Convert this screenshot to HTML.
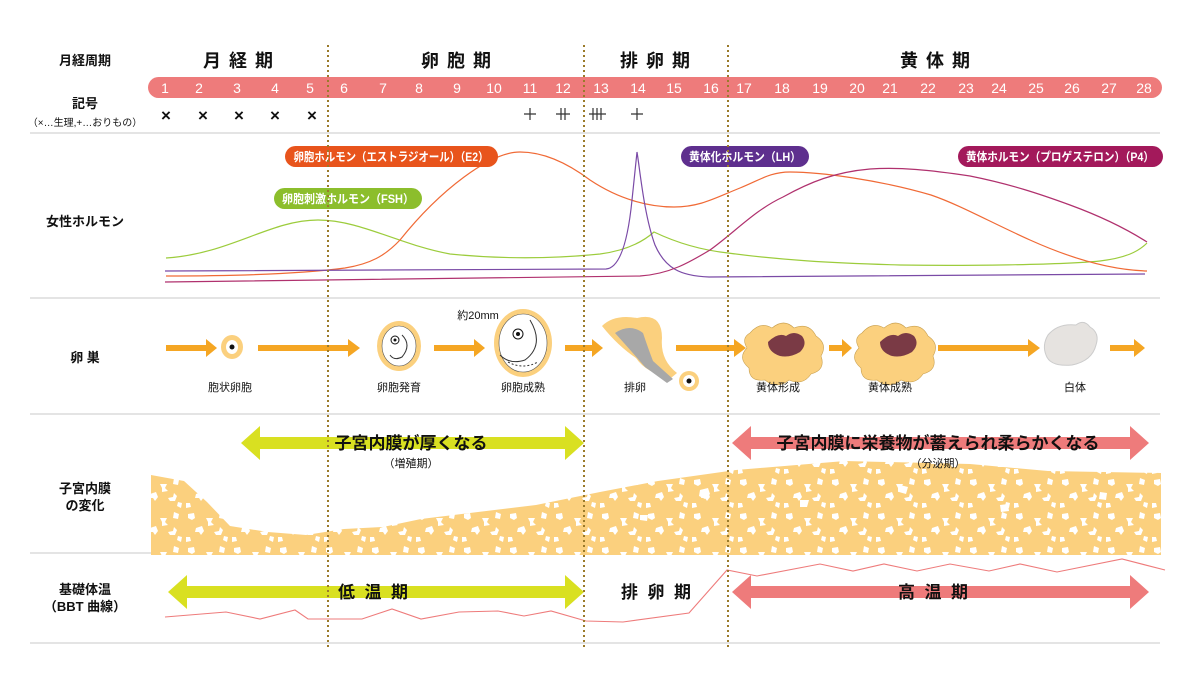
<!DOCTYPE html>
<html><head><meta charset="utf-8"><style>
html,body{margin:0;padding:0;background:#fff;}
svg{display:block;font-family:"Liberation Sans","Noto Sans CJK JP",sans-serif;}
</style></head><body>
<svg width="1191" height="684" viewBox="0 0 1191 684" xmlns="http://www.w3.org/2000/svg">
<defs>
<pattern id="spk" x="0" y="0" width="46" height="34" patternUnits="userSpaceOnUse">
<rect width="46" height="34" fill="#fbd07e"/>
<path d="M4 4 l6 -1 l1 5 l-3 2 l-4 -2z" fill="#fff"/>
<path d="M22 8 l7 0 l-2 4 l3 3 l-6 1 l0 -4z" fill="#fff"/>
<path d="M36 2 l5 2 l-1 5 l-5 -1z" fill="#fff"/>
<path d="M12 18 l6 -2 l2 5 l-3 4 l-2 -3 l-4 0z" fill="#fff"/>
<path d="M30 22 l5 -1 l1 -4 l3 3 l-2 5 l-5 0z" fill="#fff"/>
<path d="M2 27 l4 0 l1 4 l-5 1z" fill="#fff"/>
<path d="M40 26 l4 1 l-1 5 l-4 -2z" fill="#fff"/>
</pattern>
</defs>

<g stroke="#dcdcdc" stroke-width="1.5">
<line x1="30" y1="133" x2="1160" y2="133"/>
<line x1="30" y1="298" x2="1160" y2="298"/>
<line x1="30" y1="414" x2="1160" y2="414"/>
<line x1="30" y1="553" x2="1160" y2="553"/>
<line x1="30" y1="643" x2="1160" y2="643"/>
</g>

<g font-size="13" font-weight="bold" fill="#111" text-anchor="middle">
<text x="85" y="65">月経周期</text>
<text x="85" y="108">記号</text>
<text x="85" y="126" font-size="10" font-weight="normal">（×…生理,+…おりもの）</text>
<text x="85" y="226">女性ホルモン</text>
<text x="85" y="362">卵 巣</text>
<text x="85" y="493">子宮内膜</text>
<text x="85" y="510">の変化</text>
<text x="85" y="594">基礎体温</text>
<text x="85" y="611">（BBT 曲線）</text>
</g>

<g font-size="18" font-weight="bold" fill="#111" text-anchor="middle">
<text x="238" y="67" textLength="70">月 経 期</text>
<text x="456" y="67" textLength="70">卵 胞 期</text>
<text x="655" y="67" textLength="70">排 卵 期</text>
<text x="935" y="67" textLength="70">黄 体 期</text>
</g>

<rect x="148" y="77" width="1014" height="21" rx="10.5" fill="#ee7b7b"/>
<g font-size="14" fill="#fff" text-anchor="middle">
<text x="165" y="93">1</text><text x="199" y="93">2</text><text x="237" y="93">3</text><text x="275" y="93">4</text><text x="310" y="93">5</text><text x="344" y="93">6</text><text x="383" y="93">7</text><text x="419" y="93">8</text><text x="457" y="93">9</text><text x="494" y="93">10</text><text x="530" y="93">11</text><text x="563" y="93">12</text><text x="601" y="93">13</text><text x="638" y="93">14</text><text x="674" y="93">15</text><text x="711" y="93">16</text><text x="744" y="93">17</text><text x="782" y="93">18</text><text x="820" y="93">19</text><text x="857" y="93">20</text><text x="890" y="93">21</text><text x="928" y="93">22</text><text x="966" y="93">23</text><text x="999" y="93">24</text><text x="1036" y="93">25</text><text x="1072" y="93">26</text><text x="1109" y="93">27</text><text x="1144" y="93">28</text>
</g>
<g font-size="17" font-weight="bold" fill="#111" text-anchor="middle">
<text x="166" y="121">×</text><text x="203" y="121">×</text><text x="239" y="121">×</text><text x="275" y="121">×</text><text x="312" y="121">×</text>
</g>
<g stroke="#333" stroke-width="1.2">
<path d="M524 114h12M530 108v12"/>
<path d="M556 114h14M561 108v12M565 108v12"/>
<path d="M589 114h17M593 108v12M597 108v12M601 108v12"/>
<path d="M631 114h12M637 108v12"/>
</g>

<g fill="none" stroke-width="1.2">
<path stroke="#9ccc3c" d="M166 258 C230 254 270 220 318 220 C360 220 400 245 450 254 C510 260 560 258 600 254 C630 250 645 240 654 232 C675 242 700 250 728 253 C780 260 830 263 900 265 C960 266 1060 265 1100 261 C1125 258 1138 252 1147 243"/>
<path stroke="#f06a36" d="M166 276 C240 276 300 274 345 268 C370 264 385 256 400 240 C440 190 490 152 520 152 C545 152 570 165 590 180 C620 200 650 207 674 207 C700 207 715 198 740 188 C760 180 770 172 790 172 C820 172 880 180 931 195 C960 205 990 222 1030 240 C1070 258 1110 270 1147 271"/>
<path stroke="#7a4aa6" d="M165 271 L606 269 C620 268 628 240 632 200 C635 170 637 152 637 152 C640 170 644 215 655 245 C665 268 680 276 709 277 L1145 274"/>
<path stroke="#b0316e" d="M165 282 L640 276 C670 274 690 262 710 250 C735 232 755 210 783 197 C810 182 835 172 870 169 C900 167 930 170 970 176 C1010 184 1040 194 1070 205 C1100 216 1125 228 1147 242"/>
</g>
<g font-size="12" font-weight="bold" fill="#fff" text-anchor="middle">
<rect x="285" y="146" width="213" height="21" rx="10.5" fill="#e8541c"/>
<text x="391" y="161" textLength="195" lengthAdjust="spacingAndGlyphs">卵胞ホルモン（エストラジオール）（E2）</text>
<rect x="274" y="188" width="148" height="21" rx="10.5" fill="#8cbe2c"/>
<text x="348" y="203" textLength="132" lengthAdjust="spacingAndGlyphs">卵胞刺激ホルモン（FSH）</text>
<rect x="681" y="146" width="128" height="21" rx="10.5" fill="#5e2f8e"/>
<text x="745" y="161" textLength="112" lengthAdjust="spacingAndGlyphs">黄体化ホルモン（LH）</text>
<rect x="958" y="146" width="205" height="21" rx="10.5" fill="#a3195b"/>
<text x="1060" y="161" textLength="188" lengthAdjust="spacingAndGlyphs">黄体ホルモン（プロゲステロン）（P4）</text>
</g>

<g fill="#f5a623">
<path d="M166 345h40v-6l11 9l-11 9v-6h-40z"/>
<path d="M258 345h90v-6l12 9l-12 9v-6h-90z"/>
<path d="M434 345h40v-6l11 9l-11 9v-6h-40z"/>
<path d="M565 345h27v-6l11 9l-11 9v-6h-27z"/>
<path d="M676 345h58v-6l12 9l-12 9v-6h-58z"/>
<path d="M829 345h13v-6l10 9l-10 9v-6h-13z"/>
<path d="M938 345h90v-6l12 9l-12 9v-6h-90z"/>
<path d="M1110 345h24v-6l11 9l-11 9v-6h-24z"/>
</g>
<ellipse cx="232" cy="347" rx="11" ry="12" fill="#fbd07e"/>
<ellipse cx="232" cy="347" rx="6" ry="7" fill="#fff"/>
<circle cx="232" cy="347" r="2.5" fill="#111"/>
<ellipse cx="399" cy="346" rx="22" ry="25" fill="#fbd07e"/>
<ellipse cx="399" cy="346" rx="17" ry="20" fill="#fff" stroke="#555" stroke-width="0.6"/>
<circle cx="395" cy="340" r="4" fill="#fff" stroke="#111"/><circle cx="395" cy="340" r="1.5" fill="#111"/>
<path d="M402 335 q10 10 0 22 q-8 4 -12 -2" fill="none" stroke="#333"/>
<ellipse cx="523" cy="343" rx="29" ry="34" fill="#fbd07e"/>
<ellipse cx="523" cy="343" rx="24" ry="29" fill="#fff" stroke="#555" stroke-width="0.6"/>
<circle cx="518" cy="334" r="5" fill="#fff" stroke="#111"/><circle cx="518" cy="334" r="2" fill="#111"/>
<path d="M530 320 q15 25 -5 40 q-15 5 -25 -5" fill="none" stroke="#333"/>
<path d="M508 362 q15 8 30 0" fill="none" stroke="#333" stroke-dasharray="2 2"/>
<text x="478" y="319" font-size="11" fill="#111" text-anchor="middle">約20mm</text>
<path d="M602 326 q12 -12 35 -8 q25 -6 25 20 q-2 22 15 35 l-6 5 q-25 -5 -35 -20 q-18 -12 -34 -32z" fill="#fbd07e"/>
<path d="M615 333 q15 -10 28 0 q5 15 10 28 l20 18 l-6 4 l-22 -16 q-12 -14 -30 -34z" fill="#a8a8a8"/>
<circle cx="689" cy="381" r="10" fill="#fbd07e"/><circle cx="689" cy="381" r="6" fill="#fff"/><circle cx="689" cy="381" r="2.5" fill="#111"/>
<g fill="#fbd07e" stroke="#c8a050" stroke-width="0.6">
<path d="M750 333 q10 -12 22 -5 q12 -10 22 0 q15 -6 22 8 q12 8 5 20 q5 14 -10 18 q-8 12 -22 6 q-12 10 -24 0 q-16 2 -16 -12 q-12 -10 -2 -20 q-6 -10 3 -15z"/>
<path d="M862 333 q10 -12 22 -5 q12 -10 22 0 q15 -6 22 8 q12 8 5 20 q5 14 -10 18 q-8 12 -22 6 q-12 10 -24 0 q-16 2 -16 -12 q-12 -10 -2 -20 q-6 -10 3 -15z"/>
</g>
<path d="M768 342 q10 -10 18 -6 q8 -6 16 0 q6 8 -2 16 q-10 6 -20 4 q-12 -4 -12 -14z" fill="#7a3a45"/>
<path d="M880 342 q10 -10 18 -6 q8 -6 16 0 q6 8 -2 16 q-10 6 -20 4 q-12 -4 -12 -14z" fill="#7a3a45"/>
<path d="M1048 335 q10 -12 28 -10 q8 -6 14 2 q10 6 6 18 q-4 16 -24 20 q-22 2 -26 -10 q-4 -10 2 -20z" fill="#e6e3e0" stroke="#ccc"/>
<g font-size="11" fill="#111" text-anchor="middle">
<text x="230" y="391">胞状卵胞</text><text x="399" y="391">卵胞発育</text><text x="523" y="391">卵胞成熟</text><text x="635" y="391">排卵</text><text x="778" y="391">黄体形成</text><text x="890" y="391">黄体成熟</text><text x="1075" y="391">白体</text>
</g>

<path d="M151 475 L184 481 L207 502 L230 526 L268 532 L306 535 L344 529 L383 527 L421 519 L478 512 L536 505 L600 492 L658 481 L736 470 L845 461 L970 464 L1048 471 L1161 473 L1161 555 L151 555 Z" fill="url(#spk)"/>
<g fill="#fff">
<path d="M700 490 l8 -2 l2 6 l-5 5 l-6 -3z"/><path d="M800 500 l9 0 l-2 7 l-7 0z"/><path d="M900 485 l8 2 l-2 7 l-7 -2z"/><path d="M1000 505 l8 -1 l1 7 l-8 1z"/><path d="M1100 492 l7 1 l-1 7 l-7 -1z"/><path d="M640 515 l8 0 l-1 6 l-7 -1z"/>
</g>

<path d="M241 443 L260 426 L260 437 L565 437 L565 426 L584 443 L565 460 L565 449 L260 449 L260 460 Z" fill="#d9e021"/>
<path d="M732 443 L751 426 L751 437 L1130 437 L1130 426 L1149 443 L1130 460 L1130 449 L751 449 L751 460 Z" fill="#ee7b7b"/>
<g font-size="17" font-weight="bold" fill="#111" text-anchor="middle">
<text x="411" y="449">子宮内膜が厚くなる</text>
<text x="938" y="449">子宮内膜に栄養物が蓄えられ柔らかくなる</text>
</g>
<g font-size="11" fill="#111" text-anchor="middle">
<text x="411" y="467">（増殖期）</text><text x="938" y="467">（分泌期）</text>
</g>

<path d="M168 592 L187 575 L187 586 L565 586 L565 575 L584 592 L565 609 L565 598 L187 598 L187 609 Z" fill="#d9e021"/>
<path d="M732 592 L751 575 L751 586 L1130 586 L1130 575 L1149 592 L1130 609 L1130 598 L751 598 L751 609 Z" fill="#ee7b7b"/>
<g font-size="17" font-weight="bold" fill="#111" text-anchor="middle">
<text x="373" y="598" textLength="70">低 温 期</text><text x="656" y="598" textLength="70">排 卵 期</text><text x="933" y="598" textLength="70">高 温 期</text>
</g>
<polyline fill="none" stroke="#ee7b7b" stroke-width="1.1" points="165,617 226,612 260,619 295,610 308,619 362,619 392,609 421,619 459,612 498,611 524,616 551,611 586,621 623,622 689,613 727,570 757,576 820,564 853,571 884,564 917,571 950,564 989,571 1020,564 1057,572 1122,559 1165,570"/>

<g stroke="#9a7a2a" stroke-width="2" stroke-dasharray="2 3">
<line x1="328" y1="45" x2="328" y2="648"/>
<line x1="584" y1="45" x2="584" y2="648"/>
<line x1="728" y1="45" x2="728" y2="648"/>
</g>
</svg>
</body></html>
